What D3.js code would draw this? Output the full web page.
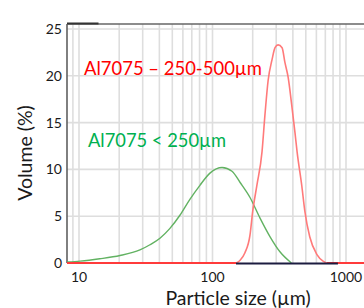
<!DOCTYPE html>
<html>
<head>
<meta charset="utf-8">
<script src="https://cdn.jsdelivr.net/npm/d3@7"></script>
<style>
  body { margin: 0; background: #fff; }
  svg { display: block; font-family: Lato, 'Open Sans', sans-serif; }
</style>
</head>
<body>
<svg id="chart" width="364" height="308"></svg>
<script>
// particle size distribution, volume % vs size (um), log x axis
const xTicks = [10, 100, 1000];
const yTicks = [0, 5, 10, 15, 20, 25];

const greenSize = [8.13, 10.2, 14.3, 20.3, 28.6, 34, 40.4, 48, 57, 67.7, 80.5, 95.7, 118, 140, 161, 191, 227, 270, 320, 390];
const greenVol  = [0.1, 0.2, 0.45, 0.8, 1.4, 1.95, 2.65, 3.7, 5.1, 6.8, 8.3, 9.6, 10.2, 9.8, 8.6, 7.0, 4.8, 2.8, 1.2, 0];

const redSize = [8.13, 150, 155, 161, 175, 191, 200, 215, 235, 247, 261, 279, 294, 310, 332, 349, 368, 392, 415, 430, 467, 491, 535, 606, 673, 721, 1400];
const redVol  = [0, 0, 0.1, 0.3, 1.1, 3.0, 5.5, 8.3, 11.9, 15.8, 19.5, 21.7, 23.0, 23.3, 23.0, 21.4, 19.9, 16.9, 13.9, 11.9, 8.2, 5.6, 2.8, 0.9, 0.2, 0, 0];

const baseBar = [150, 870]; // dark segment along the zero line

const svg = d3.select('#chart');
const width = +svg.attr('width');

const x = d3.scaleLog().domain([10, 1000]).range([79, 346]);
const y = d3.scaleLinear().domain([0, 25]).range([263, 29]);
const plotLeft = x(greenSize[0]);
const plotTop = 24;

// grid
const gridVals = [];
[1, 10, 100].forEach(dec => {
  for (let i = 1; i <= 9; i++) {
    const v = dec * i;
    if (v > greenSize[0] && x(v) < width) gridVals.push(v);
  }
});
gridVals.push(1000);

const grid = svg.append('g').attr('stroke', '#dedede').attr('stroke-width', 1.6);
grid.selectAll('line.v').data(gridVals).enter().append('line')
  .attr('x1', d => x(d)).attr('x2', d => x(d))
  .attr('y1', plotTop).attr('y2', y(0));
grid.selectAll('line.h').data(yTicks.slice(1)).enter().append('line')
  .attr('x1', plotLeft).attr('x2', width)
  .attr('y1', d => y(d)).attr('y2', d => y(d));

// frame
svg.append('line').attr('x1', plotLeft).attr('x2', width).attr('y1', plotTop).attr('y2', plotTop)
  .attr('stroke', '#666').attr('stroke-width', 1.5);
svg.append('line').attr('x1', plotLeft).attr('x2', x(14)).attr('y1', plotTop - 0.5).attr('y2', plotTop - 0.5)
  .attr('stroke', '#333').attr('stroke-width', 2);
svg.append('line').attr('x1', plotLeft).attr('x2', plotLeft).attr('y1', plotTop).attr('y2', y(0))
  .attr('stroke', '#555').attr('stroke-width', 1.5);

const line = d3.line().x(d => x(d[0])).y(d => y(d[1])).curve(d3.curveMonotoneX);

svg.append('path').datum(d3.zip(greenSize, greenVol))
  .attr('fill', 'none').attr('stroke', '#62b262').attr('stroke-width', 1.4)
  .attr('d', line);

svg.append('path').datum(d3.zip(redSize, redVol))
  .attr('fill', 'none').attr('stroke', '#ff7a7a').attr('stroke-width', 1.6)
  .attr('d', line);
// zero stretches of the red series read stronger in the original
svg.append('line').attr('x1', plotLeft).attr('x2', x(redSize[1])).attr('y1', y(0)).attr('y2', y(0))
  .attr('stroke', '#ff3b3b').attr('stroke-width', 1.8);
svg.append('line').attr('x1', x(redSize[25])).attr('x2', width).attr('y1', y(0)).attr('y2', y(0))
  .attr('stroke', '#ff3b3b').attr('stroke-width', 1.8);

svg.append('line')
  .attr('x1', x(baseBar[0])).attr('x2', x(baseBar[1]))
  .attr('y1', y(0) + 0.5).attr('y2', y(0) + 0.5)
  .attr('stroke', '#1c1c40').attr('stroke-width', 2.2);

// tick labels
svg.append('g').selectAll('text').data(yTicks).enter().append('text')
  .attr('x', 62).attr('y', d => y(d) + 5)
  .attr('text-anchor', 'end').attr('font-size', 14).attr('fill', '#1a1a1a')
  .text(d => d);
svg.append('g').selectAll('text').data(xTicks).enter().append('text')
  .attr('x', d => x(d)).attr('y', 282)
  .attr('text-anchor', 'middle').attr('font-size', 14).attr('fill', '#1a1a1a')
  .text(d => d);

// axis titles
svg.append('text').attr('x', 238).attr('y', 305)
  .attr('text-anchor', 'middle').attr('font-size', 19.5).attr('fill', '#1a1a1a')
  .text('Particle size (µm)');
svg.append('text').attr('transform', 'translate(32,153) rotate(-90)')
  .attr('text-anchor', 'middle').attr('font-size', 19.5).attr('fill', '#1a1a1a')
  .text('Volume (%)');

// series labels
svg.append('text').attr('x', 84).attr('y', 75)
  .attr('font-size', 19).attr('fill', '#ff0000')
  .attr('textLength', 178).attr('lengthAdjust', 'spacingAndGlyphs')
  .text('Al7075 – 250-500µm');
svg.append('text').attr('x', 88).attr('y', 147)
  .attr('font-size', 19).attr('fill', '#00b050')
  .attr('textLength', 138).attr('lengthAdjust', 'spacingAndGlyphs')
  .text('Al7075 < 250µm');
</script>
</body>
</html>
